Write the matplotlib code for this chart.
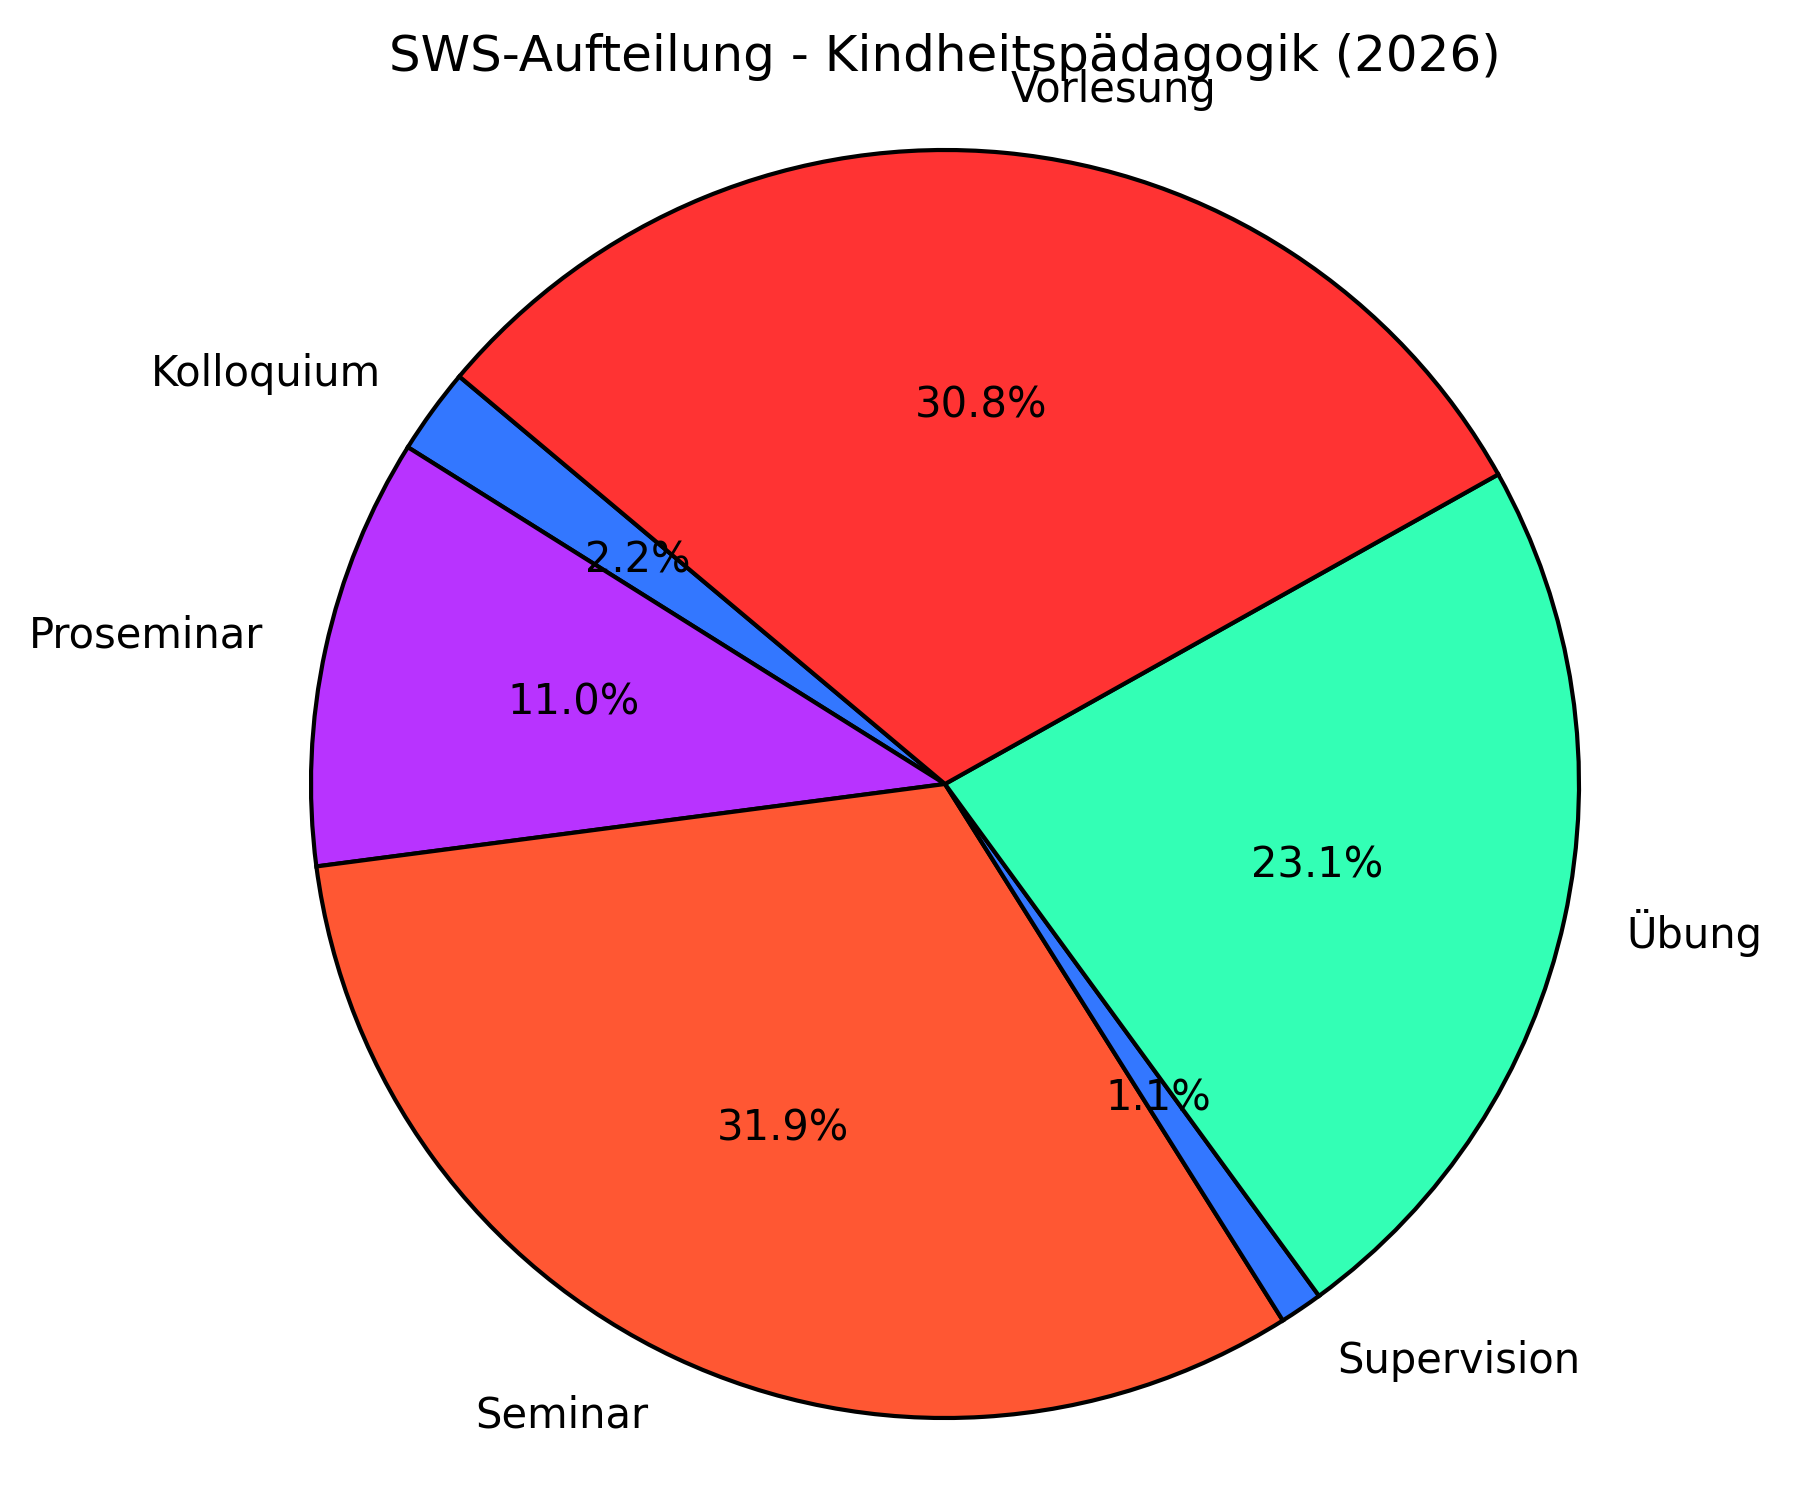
import matplotlib
matplotlib.use("Agg")
import matplotlib.pyplot as plt

# SWS per Veranstaltungsart
labels = ["Kolloquium", "Proseminar", "Seminar", "Supervision", "Übung", "Vorlesung"]
sws = [2, 10, 29, 1, 21, 28]
colors = ["#3377FF", "#B833FF", "#FF5733", "#3377FF", "#33FFB5", "#FF3333"]

W, H = 1793, 1509
fig = plt.figure(figsize=(W / 200, H / 200), dpi=200)
ax = fig.add_axes([0, 0, 1, 1])
ax.pie(sws, labels=labels, colors=colors, autopct="%1.1f%%", startangle=140,
       wedgeprops={"edgecolor": "black", "linewidth": 1.5},
       textprops={"fontsize": 15})

# pie centre / radius in pixels
cx, cy, r = 945, 784, 634
ax.set_xlim(-cx / r, (W - cx) / r)
ax.set_ylim(-(H - cy) / r, cy / r)
ax.set_aspect("equal")
ax.axis("off")
# title is centred over the pie, not the figure
ax.set_title("SWS-Aufteilung - Kindheitspädagogik (2026)", fontsize=18,
             x=cx / W, y=1 - 71 / H, pad=0)
plt.savefig("out.png", dpi=200)
